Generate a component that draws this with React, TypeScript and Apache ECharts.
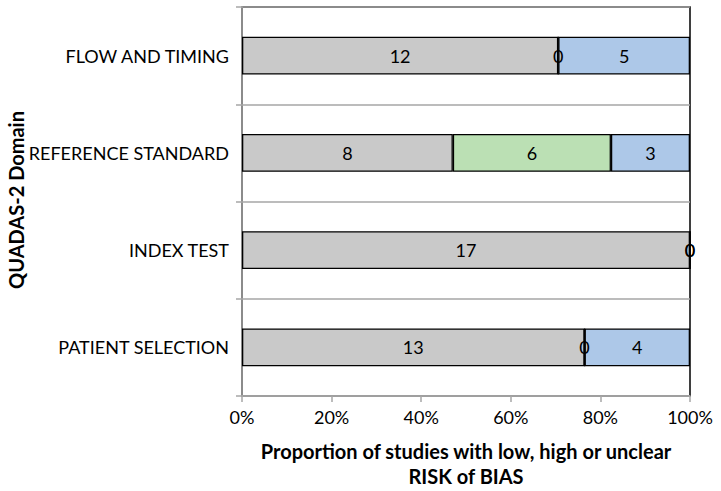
import React, { useEffect, useRef } from "react";
import * as echarts from "echarts";

const categories = ["PATIENT SELECTION", "INDEX TEST", "REFERENCE STANDARD", "FLOW AND TIMING"];
const lowRisk = [13, 17, 8, 12];
const highRisk = [0, 0, 6, 0];
const unclearRisk = [4, 0, 3, 5];
const xTicks = [0, 20, 40, 60, 80, 100];
const yTitle = "QUADAS-2 Domain";
const xTitle = "Proportion of studies with low, high or unclear\nRISK of BIAS";

const FONT = "Lato, 'Open Sans', sans-serif";

export default function App() {
  const ref = useRef<HTMLDivElement>(null);
  useEffect(() => {
    if (!ref.current) return;
    const chart = echarts.init(ref.current, undefined, { renderer: "svg" });
    const totals = categories.map((_, i) => lowRisk[i] + highRisk[i] + unclearRisk[i]);
    const toPct = (arr: number[]) =>
      arr.map((v, i) => ({ value: (v / totals[i]) * 100, count: v }));
    const mk = (name: string, arr: number[], color: string) => ({
      name,
      type: "bar",
      stack: "risk",
      barWidth: "39%",
      data: toPct(arr),
      itemStyle: { color, borderColor: "#000", borderWidth: 1.3 },
      label: {
        show: true,
        position: "inside",
        color: "#000",
        fontFamily: FONT,
        fontSize: 18,
        formatter: (p: any) => String(p.data.count),
      },
    });
    chart.setOption({
      animation: false,
      grid: {
        left: 242,
        right: 31,
        top: 7,
        bottom: 95,
        show: true,
        borderColor: "#000",
        borderWidth: 1.5,
        outerBoundsMode: "none",
        containLabel: false,
      },
      graphic: [
        {
          type: "text",
          x: 16,
          y: 200,
          rotation: Math.PI / 2,
          style: {
            text: yTitle,
            fontFamily: FONT,
            fontSize: 20,
            fontWeight: "bold",
            fill: "#000",
            align: "center",
            verticalAlign: "middle",
          },
        },
      ],
      xAxis: {
        type: "value",
        min: 0,
        max: 100,
        interval: 20,
        name: xTitle,
        nameLocation: "middle",
        nameGap: 42,
        nameTextStyle: {
          fontFamily: FONT,
          fontSize: 20,
          fontWeight: "bold",
          color: "#000",
          lineHeight: 25,
        },
        axisLine: { show: true, lineStyle: { color: "#a6a6a6", width: 1.5 } },
        axisTick: { show: true, length: 6, lineStyle: { color: "#a6a6a6", width: 1.5 } },
        splitLine: { show: false },
        axisLabel: {
          color: "#000",
          fontFamily: FONT,
          fontSize: 18,
          margin: 12,
          formatter: (v: number) => (xTicks.includes(v) ? v + "%" : ""),
        },
      },
      yAxis: {
        type: "category",
        data: categories,
        axisLine: { show: true, lineStyle: { color: "#a6a6a6", width: 1.5 } },
        axisTick: { show: true, length: 6, lineStyle: { color: "#a6a6a6", width: 1.5 } },
        splitLine: { show: true, lineStyle: { color: "#a6a6a6", width: 1.5 } },
        axisLabel: {
          color: "#000",
          fontFamily: FONT,
          fontSize: 18,
          margin: 13,
        },
      },
      series: [
        mk("Low", lowRisk, "#c9c9c9"),
        mk("High", highRisk, "#bbe0b4"),
        mk("Unclear", unclearRisk, "#adc8e8"),
      ],
    });
    return () => chart.dispose();
  }, []);
  return <div ref={ref} style={{ width: 721, height: 491, position: "absolute", left: 0, top: 0 }} />;
}
